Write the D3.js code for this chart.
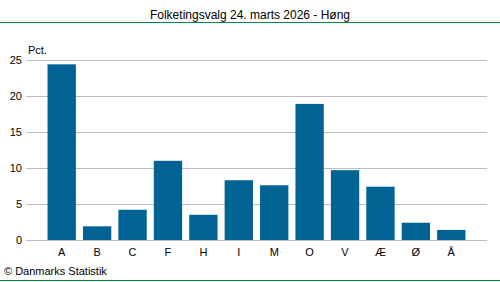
<!DOCTYPE html>
<html>
<head>
<meta charset="utf-8">
<script src="https://cdn.jsdelivr.net/npm/d3@7"></script>
<style>
  body { margin: 0; background: #fff; }
  svg { font-family: "Liberation Sans", Arial, sans-serif; display: block; }
</style>
</head>
<body>
<div id="chart"></div>
<script>
var parties = ["A", "B", "C", "F", "H", "I", "M", "O", "V", "Æ", "Ø", "Å"];
var values = [24.4, 1.9, 4.2, 11.0, 3.5, 8.3, 7.6, 18.9, 9.7, 7.4, 2.4, 1.4];
var yTicks = [0, 5, 10, 15, 20, 25];

var w = 500, h = 282;

var svg = d3.select("#chart").append("svg")
    .attr("width", w)
    .attr("height", h);

// title + green rules
svg.append("text")
    .attr("x", 250).attr("y", 19)
    .attr("text-anchor", "middle")
    .style("font-size", "12px")
    .attr("fill", "#000")
    .text("Folketingsvalg 24. marts 2026 - Høng");

svg.append("line")
    .attr("x1", 0).attr("x2", w)
    .attr("y1", 22.5).attr("y2", 22.5)
    .attr("stroke", "#008542").attr("stroke-width", 1);

svg.append("line")
    .attr("x1", 0).attr("x2", w)
    .attr("y1", 280.5).attr("y2", 280.5)
    .attr("stroke", "#008542").attr("stroke-width", 1);

var xScale = d3.scaleBand()
    .domain(parties)
    .range([44, 469])
    .paddingInner(0.2)
    .paddingOuter(0.1);

var yScale = d3.scaleLinear()
    .domain([0, 25])
    .range([240, 60]);

// gridlines
svg.append("g")
    .selectAll("line")
    .data(yTicks)
    .enter().append("line")
    .attr("x1", 26).attr("x2", 487)
    .attr("y1", function(d) { return Math.round(yScale(d)) + 0.5; })
    .attr("y2", function(d) { return Math.round(yScale(d)) + 0.5; })
    .attr("stroke", "#bcbcc6")
    .attr("stroke-width", 1);

// bars
svg.append("g")
    .selectAll("rect")
    .data(values)
    .enter().append("rect")
    .attr("x", function(d, i) { return xScale(parties[i]); })
    .attr("width", xScale.bandwidth())
    .attr("y", function(d) { return yScale(d); })
    .attr("height", function(d) { return yScale(0) - yScale(d); })
    .attr("fill", "#006394");

// y axis labels
var yAxis = d3.axisLeft(yScale).tickValues(yTicks).tickSize(0).tickPadding(0);
var gy = svg.append("g")
    .attr("transform", "translate(22,0)")
    .call(yAxis);
gy.select(".domain").remove();
gy.selectAll("text")
    .style("font-size", "11px")
    .style("font-family", "Liberation Sans, Arial, sans-serif")
    .attr("fill", "#000");

// x axis labels
var xAxis = d3.axisBottom(xScale).tickSize(0).tickPadding(0);
var gx = svg.append("g")
    .attr("transform", "translate(0,248)")
    .call(xAxis);
gx.select(".domain").remove();
gx.selectAll("text")
    .style("font-size", "11px")
    .style("font-family", "Liberation Sans, Arial, sans-serif")
    .attr("fill", "#000");

svg.append("text")
    .attr("x", 28).attr("y", 54)
    .style("font-size", "11px")
    .text("Pct.");

svg.append("text")
    .attr("x", 4).attr("y", 275)
    .style("font-size", "11px")
    .text("© Danmarks Statistik");
</script>
</body>
</html>
